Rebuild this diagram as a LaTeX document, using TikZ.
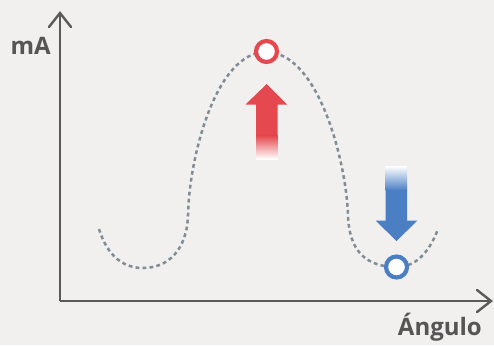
\documentclass[tikz,border=0pt]{standalone}
\usepackage{fontspec}
\setmainfont{Open Sans}
\definecolor{bgc}{HTML}{F2F0EF}
\definecolor{axc}{HTML}{5A5A5A}
\definecolor{txc}{HTML}{555555}
\definecolor{curvec}{HTML}{7F8E96}
\definecolor{redc}{HTML}{E5484E}
\definecolor{bluec}{HTML}{4A7FC4}
\tikzset{
  axis/.style={draw=axc, line width=2.4pt},
  axhead/.style={draw=axc, line width=2.4pt, line cap=round, line join=miter},
  curveline/.style={draw=curvec, line width=2.5pt, dash pattern=on 3.8pt off 3.2pt},
  marker/.style={circle, fill=white, line width=4.2pt, minimum size=21pt, inner sep=0pt},
  lbl/.style={text=txc, font=\bfseries\fontsize{24}{28}\selectfont, inner sep=0pt}
}
\begin{document}
\begin{tikzpicture}[x=1pt, y=-1pt]
\fill[bgc] (0,0) rectangle (494,345);
\useasboundingbox (0,0) rectangle (494,345);
% axes
\coordinate (origin) at (60,301);
\coordinate (ytop) at (60,13);
\coordinate (xend) at (491,301);
\draw[axis] (origin) -- (ytop);
\draw[axis] (origin) -- (xend);
\draw[axhead] ([shift={(-11,14)}]ytop) -- (ytop) -- ([shift={(11,14)}]ytop);
\draw[axhead] ([shift={(-14,-11)}]xend) -- (xend) -- ([shift={(-14,11)}]xend);
% labels
\node[lbl, anchor=base east] (ylab) at (51,55) {mA};
\node[lbl, anchor=base east] (xlab) at (482,335) {Ángulo};
% curve
\draw[curveline] (99,229) .. controls (108,258) and (125,268) .. (143,268)
  .. controls (168,268) and (187,250) .. (188,215)
  .. controls (189,160) and (215,52) .. (266,52)
  .. controls (318,52) and (346,160) .. (348,215)
  .. controls (349,250) and (365,267) .. (397,267)
  .. controls (420,267) and (432,245) .. (438,229);
% red arrow (up)
\fill[redc] (256,136) -- (256,104.5) -- (245.5,104.5) -- (266.7,84) -- (287,104.5) -- (277.5,104.5) -- (277.5,136) -- cycle;
\shade[top color=redc, bottom color=white] (256,135.5) rectangle (277.5,159);
% blue arrow (down)
\shade[top color=white, bottom color=bluec] (385.5,166) rectangle (407,190.5);
\fill[bluec] (385.5,190) -- (385.5,220.5) -- (375.5,220.5) -- (396.5,241) -- (417.5,220.5) -- (407,220.5) -- (407,190) -- cycle;
% markers
\node[marker, draw=redc] (peak) at (266.5,51.5) {};
\node[marker, draw=bluec] (valley) at (396.5,267) {};
\end{tikzpicture}
\end{document}
